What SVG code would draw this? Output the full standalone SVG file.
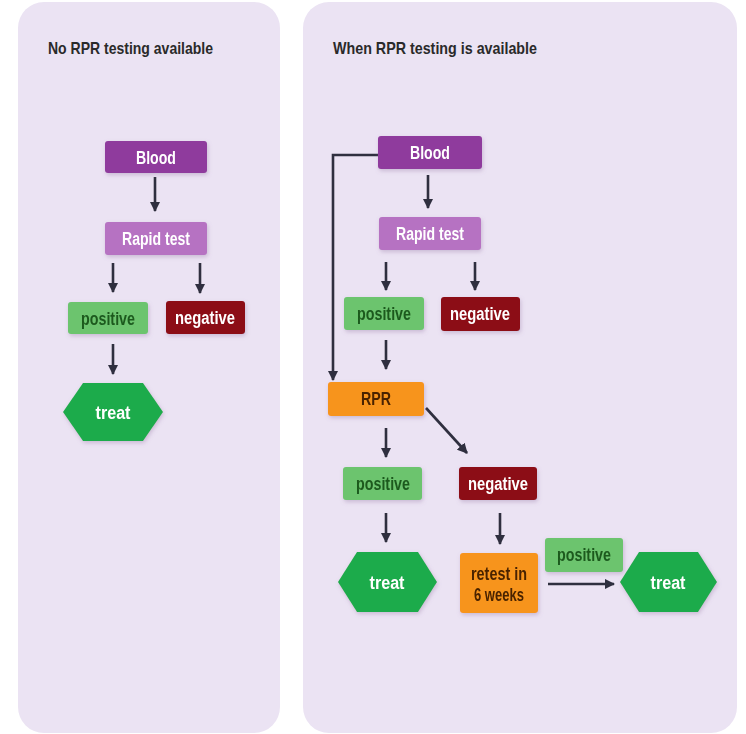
<svg xmlns="http://www.w3.org/2000/svg" width="746" height="734" viewBox="0 0 746 734">
<defs>
<marker id="ah" viewBox="0 0 10 10" refX="9" refY="5" markerWidth="4" markerHeight="4" orient="auto" markerUnits="strokeWidth">
<path d="M0,0 L10,5 L0,10 z" fill="#2f2f3f"/>
</marker>
<filter id="sh" x="-20%" y="-20%" width="140%" height="160%">
<feDropShadow dx="1" dy="2" stdDeviation="2" flood-color="#8a6a9a" flood-opacity="0.35"/>
</filter>
</defs>
<style>
.panel{fill:#ebe3f3;}
.title{font-family:"Liberation Sans",Arial,sans-serif;font-weight:bold;font-size:17px;fill:#2a2a2a;}
.lbl{font-family:"Liberation Sans",Arial,sans-serif;font-weight:bold;font-size:18px;text-anchor:middle;}
.blood{fill:#8f3b9d;}
.rapid{fill:#b672c2;}
.pos{fill:#6cc46e;}
.neg{fill:#8c0e16;}
.rpr{fill:#f7941d;}
.treat{fill:#1fab4b;}
.w{fill:#ffffff;}
.dg{fill:#1d5a1f;}
.br{fill:#4a2400;}
.conn{stroke:#2f2f3f;stroke-width:2.6;fill:none;marker-end:url(#ah);}
</style>
<rect width="746" height="734" fill="#ffffff"/>
<rect class="panel" x="18" y="2" width="262" height="731" rx="26"/>
<rect class="panel" x="303" y="2" width="434" height="731" rx="26"/>
<text class="title" x="48" y="54" textLength="165" lengthAdjust="spacingAndGlyphs">No RPR testing available</text>
<text class="title" x="333" y="54" textLength="204" lengthAdjust="spacingAndGlyphs">When RPR testing is available</text>

<g id="connectors">
<path class="conn" d="M155,177 V211"/>
<path class="conn" d="M113,263 V292"/>
<path class="conn" d="M200,263 V293"/>
<path class="conn" d="M113,344 V374"/>

<path class="conn" d="M378,155 H333 V380"/>
<path class="conn" d="M428,175 V208"/>
<path class="conn" d="M386,262 V290"/>
<path class="conn" d="M475,262 V290"/>
<path class="conn" d="M386,340 V369"/>
<path class="conn" d="M426,408 L467,453"/>
<path class="conn" d="M386,428 V457"/>
<path class="conn" d="M386,513 V542"/>
<path class="conn" d="M500,513 V544"/>
<path class="conn" d="M548,584 H614"/>
</g>

<g id="l-blood" filter="url(#sh)"><rect class="blood" x="105" y="141" width="102" height="32" rx="3"/><text class="lbl w" x="156" y="164" textLength="40" lengthAdjust="spacingAndGlyphs">Blood</text></g>
<g id="l-rapid" filter="url(#sh)"><rect class="rapid" x="105" y="222" width="102" height="33" rx="3"/><text class="lbl w" x="156" y="245" textLength="68" lengthAdjust="spacingAndGlyphs">Rapid test</text></g>
<g id="l-pos" filter="url(#sh)"><rect class="pos" x="68" y="302" width="80" height="32" rx="3"/><text class="lbl dg" x="108" y="325" textLength="54" lengthAdjust="spacingAndGlyphs">positive</text></g>
<g id="l-neg" filter="url(#sh)"><rect class="neg" x="166" y="301" width="79" height="33" rx="3"/><text class="lbl w" x="205" y="324" textLength="60" lengthAdjust="spacingAndGlyphs">negative</text></g>
<g id="l-treat" filter="url(#sh)"><polygon class="treat" points="63,412 83,383 143,383 163,412 143,441 83,441"/><text class="lbl w" x="113" y="419" textLength="35" lengthAdjust="spacingAndGlyphs">treat</text></g>

<g id="r-blood" filter="url(#sh)"><rect class="blood" x="378" y="136" width="104" height="33" rx="3"/><text class="lbl w" x="430" y="159" textLength="40" lengthAdjust="spacingAndGlyphs">Blood</text></g>
<g id="r-rapid" filter="url(#sh)"><rect class="rapid" x="379" y="217" width="102" height="33" rx="3"/><text class="lbl w" x="430" y="240" textLength="68" lengthAdjust="spacingAndGlyphs">Rapid test</text></g>
<g id="r-pos1" filter="url(#sh)"><rect class="pos" x="344" y="297" width="80" height="33" rx="3"/><text class="lbl dg" x="384" y="320" textLength="54" lengthAdjust="spacingAndGlyphs">positive</text></g>
<g id="r-neg1" filter="url(#sh)"><rect class="neg" x="441" y="297" width="79" height="34" rx="3"/><text class="lbl w" x="480" y="320" textLength="60" lengthAdjust="spacingAndGlyphs">negative</text></g>
<g id="r-rpr" filter="url(#sh)"><rect class="rpr" x="328" y="382" width="96" height="34" rx="3"/><text class="lbl br" x="376" y="405" textLength="30" lengthAdjust="spacingAndGlyphs">RPR</text></g>
<g id="r-pos2" filter="url(#sh)"><rect class="pos" x="343" y="467" width="79" height="33" rx="3"/><text class="lbl dg" x="383" y="490" textLength="54" lengthAdjust="spacingAndGlyphs">positive</text></g>
<g id="r-neg2" filter="url(#sh)"><rect class="neg" x="459" y="467" width="78" height="33" rx="3"/><text class="lbl w" x="498" y="490" textLength="60" lengthAdjust="spacingAndGlyphs">negative</text></g>
<g id="r-treat1" filter="url(#sh)"><polygon class="treat" points="338,582 357,552 418,552 437,582 418,612 357,612"/><text class="lbl w" x="387" y="589" textLength="35" lengthAdjust="spacingAndGlyphs">treat</text></g>
<g id="r-retest" filter="url(#sh)"><rect class="rpr" x="460" y="553" width="78" height="60" rx="3"/><text class="lbl br" x="499" y="580" textLength="56" lengthAdjust="spacingAndGlyphs">retest in</text><text class="lbl br" x="499" y="601" textLength="50" lengthAdjust="spacingAndGlyphs">6 weeks</text></g>
<g id="r-pos3" filter="url(#sh)"><rect class="pos" x="545" y="538" width="78" height="34" rx="3"/><text class="lbl dg" x="584" y="561" textLength="54" lengthAdjust="spacingAndGlyphs">positive</text></g>
<g id="r-treat2" filter="url(#sh)"><polygon class="treat" points="620,582 639,552 698,552 717,582 698,612 639,612"/><text class="lbl w" x="668" y="589" textLength="35" lengthAdjust="spacingAndGlyphs">treat</text></g>
</svg>
